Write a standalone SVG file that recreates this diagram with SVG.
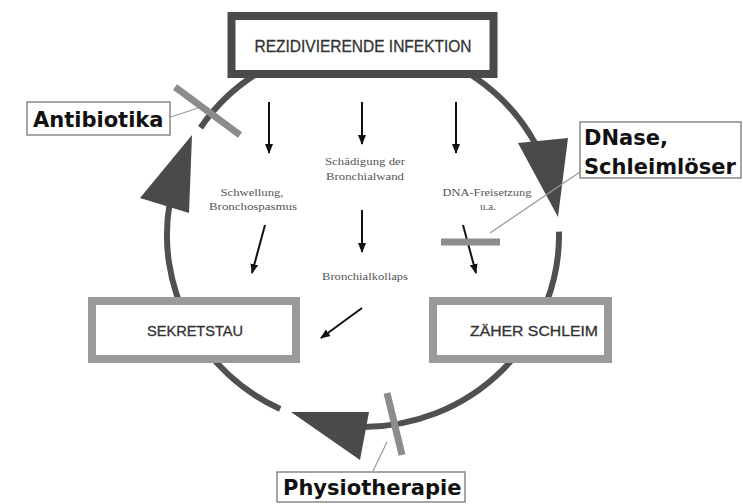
<svg xmlns="http://www.w3.org/2000/svg" width="743" height="504" viewBox="0 0 743 504">
<defs>
<marker id="ah" markerUnits="userSpaceOnUse" markerWidth="10" markerHeight="10" viewBox="0 0 10 10" refX="9" refY="5" orient="auto">
<path d="M0,1 L10,5 L0,9 Z" fill="#111"/>
</marker>
</defs>
<style>
.arc{fill:none;stroke:#505050;stroke-width:6}
.tri{fill:#4a4a4a}
.bar{stroke:#8c8c8c;stroke-width:7;fill:none}
.lead{stroke:#999;stroke-width:1.2;fill:none}
.arr{stroke:#111;stroke-width:2;fill:none;marker-end:url(#ah)}
.main{fill:#fff;stroke-width:8}
.mt{font-family:"Liberation Sans",Arial,sans-serif;fill:#333;text-anchor:middle;stroke:#333;stroke-width:0.3}
.small{font-family:"Liberation Serif","Times New Roman",serif;font-size:11px;fill:#555;text-anchor:middle}
.lbox{fill:#fff;stroke:#888;stroke-width:1.5}
.lt{font-family:"DejaVu Sans",Verdana,sans-serif;font-weight:bold;font-size:21px;fill:#111}
</style>
<rect width="743" height="504" fill="#fff"/>
<g id="connectors">
<path class="arc" d="M200.5,127.7 A196,192 0 0 1 536.1,144.9"/>
<path class="arc" d="M559,231.6 A196,192 0 0 1 363,427"/>
<path class="arc" d="M280.2,409 A196,192 0 0 1 169.9,201.7"/>
<line class="arr" x1="269" y1="102" x2="269" y2="153"/>
<line class="arr" x1="362" y1="102" x2="362" y2="144"/>
<line class="arr" x1="456" y1="102" x2="456" y2="153"/>
<line class="arr" x1="362" y1="210" x2="362" y2="252"/>
<line class="arr" x1="265" y1="225" x2="252" y2="273"/>
<line class="arr" x1="463" y1="225" x2="476" y2="273"/>
<line class="arr" x1="362" y1="308" x2="321" y2="338"/>
</g>
<g id="node-infektion">
<rect class="main" x="231.5" y="16" width="262" height="58" stroke="#4a4a4a"/>
<text class="mt" x="363" y="52" font-size="16" textLength="217" lengthAdjust="spacingAndGlyphs">REZIDIVIERENDE INFEKTION</text>
</g>
<g id="node-sekretstau">
<rect class="main" x="92" y="301" width="204" height="58" stroke="#9a9a9a"/>
<text class="mt" x="195" y="336" font-size="14" textLength="96" lengthAdjust="spacingAndGlyphs">SEKRETSTAU</text>
</g>
<g id="node-schleim">
<rect class="main" x="433" y="301" width="175" height="58" stroke="#9a9a9a"/>
<text class="mt" x="534" y="336" font-size="14" textLength="128" lengthAdjust="spacingAndGlyphs">ZÄHER SCHLEIM</text>
</g>
<g id="arrowheads">
<polygon class="tri" points="192,135 140,198 189,213"/>
<polygon class="tri" points="518,143 568,138 558,217"/>
<polygon class="tri" points="291,412 369,412 360,460"/>
</g>
<g id="texts">
<text class="small" x="365" y="165" textLength="80" lengthAdjust="spacingAndGlyphs">Schädigung der</text>
<text class="small" x="365" y="180" textLength="78" lengthAdjust="spacingAndGlyphs">Bronchialwand</text>
<text class="small" x="252" y="196" textLength="63" lengthAdjust="spacingAndGlyphs">Schwellung,</text>
<text class="small" x="253" y="210" textLength="88" lengthAdjust="spacingAndGlyphs">Bronchospasmus</text>
<text class="small" x="487" y="196" textLength="89" lengthAdjust="spacingAndGlyphs">DNA-Freisetzung</text>
<text class="small" x="488" y="210">u.a.</text>
<text class="small" x="365" y="280" textLength="86" lengthAdjust="spacingAndGlyphs">Bronchialkollaps</text>
</g>
<g id="node-antibiotika">
<line class="bar" x1="175" y1="87" x2="240" y2="135"/>
<line class="lead" x1="171" y1="117" x2="198" y2="108"/>
<rect class="lbox" x="27" y="102" width="143" height="33"/>
<text class="lt" x="33" y="127">Antibiotika</text>
</g>
<g id="node-dnase">
<line class="bar" x1="441" y1="242" x2="500" y2="242"/>
<line class="lead" x1="580" y1="172" x2="490" y2="233"/>
<rect class="lbox" x="580" y="122" width="161" height="56"/>
<text class="lt" x="584" y="145">DNase,</text>
<text class="lt" x="584" y="174">Schleimlöser</text>
</g>
<g id="node-physio">
<line class="bar" x1="387" y1="393" x2="402" y2="455" stroke-width="6"/>
<line class="lead" x1="373" y1="471" x2="387" y2="442"/>
<rect class="lbox" x="277" y="472" width="188" height="30"/>
<text class="lt" x="283" y="495">Physiotherapie</text>
</g>
</svg>
